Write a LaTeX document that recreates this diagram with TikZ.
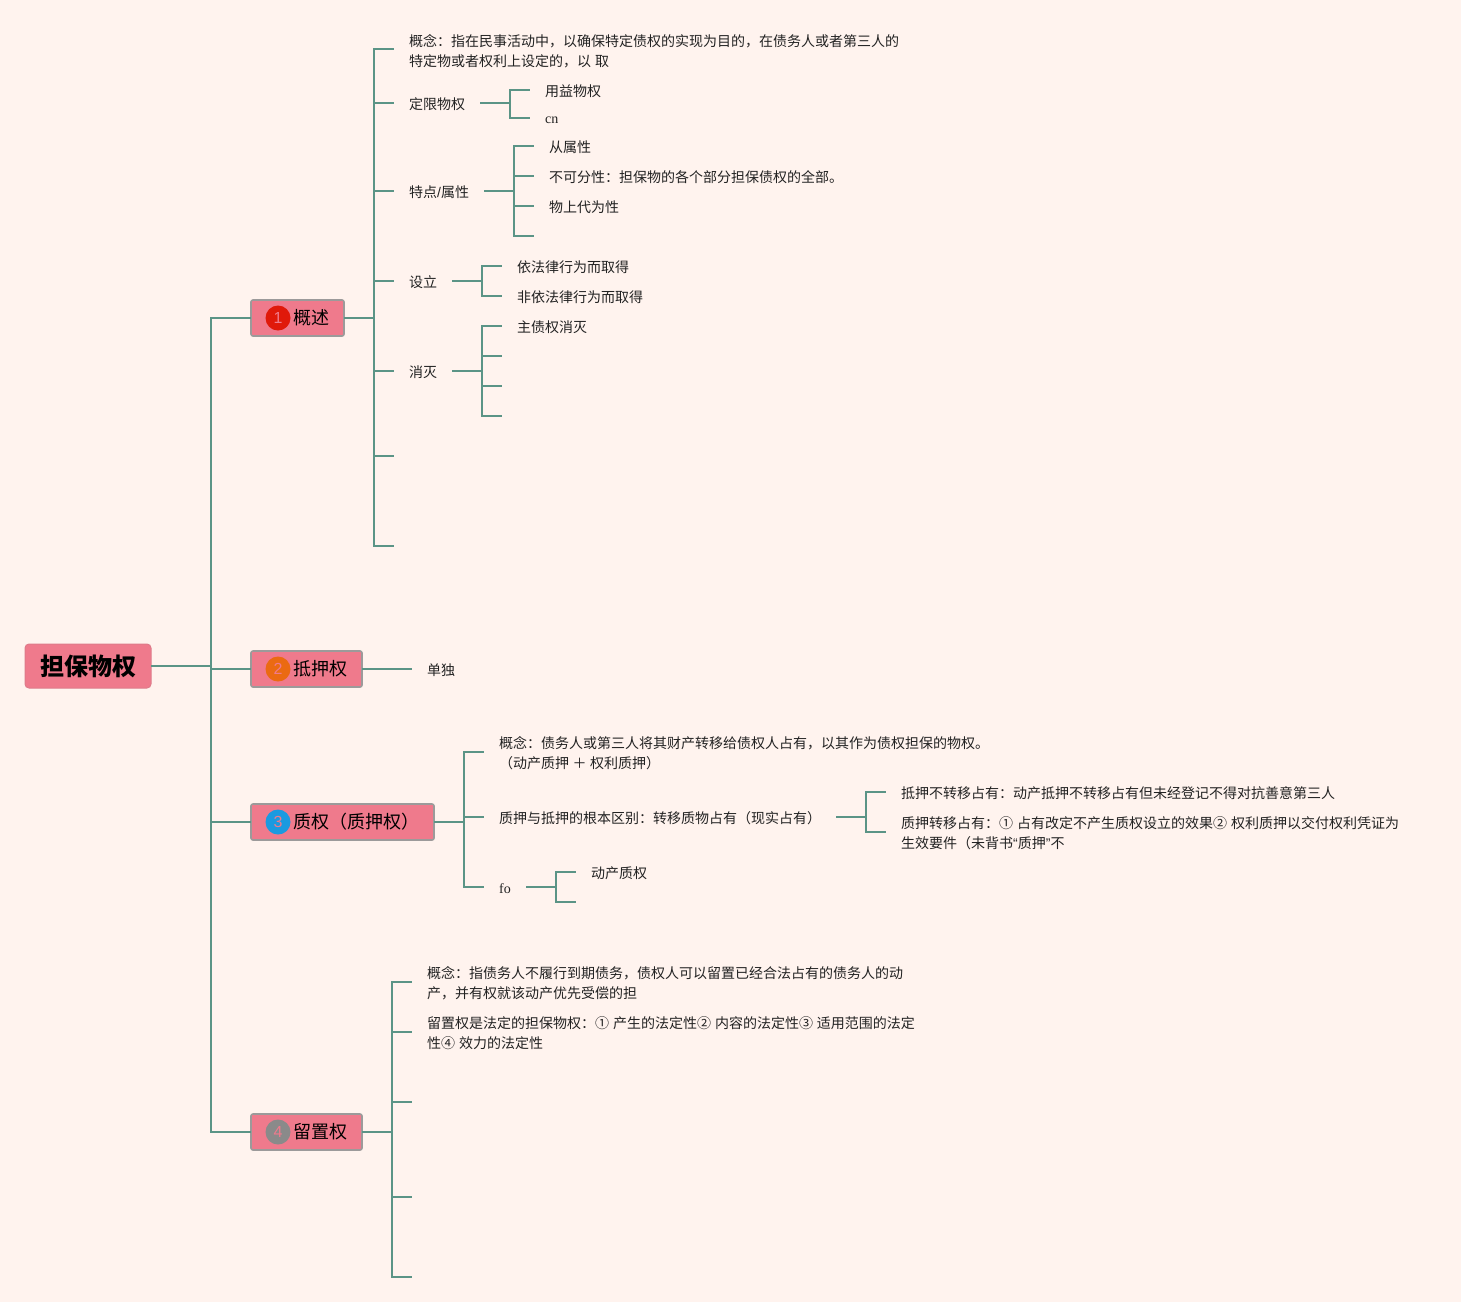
\documentclass[tikz,border=0pt]{standalone}
\usepackage{fontspec}
\setmainfont{Noto Sans CJK SC}
\newfontfamily\latinser{Liberation Serif}
\newfontfamily\latinsans{Liberation Sans}
\definecolor{bgc}{HTML}{FFF3EE}
\definecolor{linkc}{HTML}{5B9486}
\definecolor{boxc}{HTML}{EF7A8C}
\definecolor{edgec}{HTML}{9C9A9A}
\definecolor{txtc}{HTML}{222222}
\definecolor{badgeA}{HTML}{E0190A}
\definecolor{badgeB}{HTML}{EB6A12}
\definecolor{badgeC}{HTML}{1B9AE0}
\definecolor{badgeD}{HTML}{8A8A8A}
\tikzset{
  conn/.style={draw=linkc,line width=2pt},
  leaf/.style={anchor=west,inner xsep=15pt,inner ysep=0pt,align=left,text=txtc,font=\fontsize{14}{20}\selectfont},
  main/.style={anchor=west,draw=edgec,line width=1.6pt,outer sep=0pt,fill=boxc,rounded corners=2pt,minimum height=36pt,inner xsep=0pt,inner ysep=0pt,text=black,font=\fontsize{18}{22}\selectfont},
  rootbox/.style={draw=boxc!85!gray,line width=1pt,outer sep=0pt,fill=boxc,rounded corners=4pt,minimum width=126pt,minimum height=44pt,inner sep=0pt,text=black,font=\fontsize{24}{28}\selectfont\bfseries},
  badge/.style={circle,minimum size=25pt,inner sep=0pt,text=boxc,font=\latinsans\fontsize{16}{18}\selectfont},
}
\newcommand{\mtext}[1]{\hspace*{42pt}\raisebox{-1pt}{#1}\hspace*{15pt}}
\newcommand{\qs}[1]{{\latinsans #1}}
\newcommand{\gp}{\hspace{3.9pt}}
\begin{document}
\begin{tikzpicture}[x=1pt,y=-1pt]
\fill[bgc] (0,0) rectangle (1461,1302);
\useasboundingbox (0,0) rectangle (1461,1302);

% root and main branches
\node[rootbox] (root) at (88,666) {\raisebox{-2pt}{担保物权}};
\node[main] (m1) at (251,318) {\mtext{概述}};
\node[main] (m2) at (251,669) {\mtext{抵押权}};
\node[main] (m3) at (251,822) {\mtext{质权（质押权）}};
\node[main] (m4) at (251,1132) {\mtext{留置权}};
\node[badge,fill=badgeA] (b1) at (278,318) {1};
\node[badge,fill=badgeB] (b2) at (278,669) {2};
\node[badge,fill=badgeC] (b3) at (278,822) {3};
\node[badge,fill=badgeD] (b4) at (278,1132) {4};
\coordinate (jr) at (211,665.5);
\draw[conn] (root.east |- jr) -- (jr);
\foreach \m in {m1,m2,m3,m4} \draw[conn] (jr) |- (\m.west);

% 概述
\coordinate (j1) at (374,318);
\node[leaf] (a1) at (394,51.5) {概念：指在民事活动中，以确保特定债权的实现为目的，在债务人或者第三人的\\特定物或者权利上设定的，以\gp 取};
\node[leaf] (a2) at (394,104.5) {定限物权};
\node[leaf] (a3) at (394,192.5) {特点{\latinsans /}属性};
\node[leaf] (a4) at (394,282.5) {设立};
\node[leaf] (a5) at (394,372.5) {消灭};
\coordinate (a6) at (394,456);
\coordinate (a7) at (394,546);
\draw[conn] (m1.east) -- (j1);
\draw[conn] (j1) |- (a1.west |- 0,49);
\draw[conn] (j1) |- (a2.west |- 0,103);
\draw[conn] (j1) |- (a3.west |- 0,191);
\draw[conn] (j1) |- (a4.west |- 0,281);
\draw[conn] (j1) |- (a5.west |- 0,371);
\draw[conn] (j1) |- (a6);
\draw[conn] (j1) |- (a7);

% 定限物权
\coordinate (j2) at (510,103);
\node[leaf] (a21) at (530,91.5) {用益物权};
\node[leaf,font=\latinser\fontsize{14}{20}\selectfont] (a22) at (530,120.5) {cn};
\draw[conn] (a2.east |- j2) -- (j2);
\draw[conn] (j2) |- (a21.west |- 0,90);
\draw[conn] (j2) |- (a22.west |- 0,118);

% 特点/属性
\coordinate (j3) at (514,191);
\node[leaf] (a31) at (534,147.5) {从属性};
\node[leaf] (a32) at (534,177.5) {不可分性：担保物的各个部分担保债权的全部。};
\node[leaf] (a33) at (534,207.5) {物上代为性};
\coordinate (a34) at (534,236);
\draw[conn] (a3.east |- j3) -- (j3);
\draw[conn] (j3) |- (a31.west |- 0,146);
\draw[conn] (j3) |- (a32.west |- 0,176);
\draw[conn] (j3) |- (a33.west |- 0,206);
\draw[conn] (j3) |- (a34);

% 设立
\coordinate (j4) at (482,281);
\node[leaf] (a41) at (502,267.5) {依法律行为而取得};
\node[leaf] (a42) at (502,297.5) {非依法律行为而取得};
\draw[conn] (a4.east |- j4) -- (j4);
\draw[conn] (j4) |- (a41.west |- 0,266);
\draw[conn] (j4) |- (a42.west |- 0,296);

% 消灭
\coordinate (j5) at (482,371);
\node[leaf] (a51) at (502,327.5) {主债权消灭};
\coordinate (a52) at (502,356);
\coordinate (a53) at (502,386);
\coordinate (a54) at (502,416);
\draw[conn] (a5.east |- j5) -- (j5);
\draw[conn] (j5) |- (a51.west |- 0,326);
\draw[conn] (j5) |- (a52);
\draw[conn] (j5) |- (a53);
\draw[conn] (j5) |- (a54);

% 抵押权
\node[leaf] (c1) at (412,670.5) {单独};
\draw[conn] (m2.east) -- (c1.west |- m2.east);

% 质权
\coordinate (j6) at (464,822);
\node[leaf] (d1) at (484,753.5) {概念：债务人或第三人将其财产转移给债权人占有，以其作为债权担保的物权。\\（动产质押\hspace{3.5pt}＋\hspace{3.5pt}权利质押）};
\node[leaf] (d2) at (484,818.5) {质押与抵押的根本区别：转移质物占有（现实占有）};
\node[leaf,font=\latinser\fontsize{14}{20}\selectfont] (d3) at (484,889) {fo};
\draw[conn] (m3.east) -- (j6);
\draw[conn] (j6) |- (d1.west |- 0,752);
\draw[conn] (j6) |- (d2.west |- 0,817);
\draw[conn] (j6) |- (d3.west |- 0,887);

\coordinate (j7) at (866,817);
\node[leaf] (d21) at (886,793.5) {抵押不转移占有：动产抵押不转移占有但未经登记不得对抗善意第三人};
\node[leaf] (d22) at (886,833.5) {质押转移占有：①\gp 占有改定不产生质权设立的效果②\gp 权利质押以交付权利凭证为\\生效要件（未背书\qs{“}质押\qs{”}不};
\draw[conn] (d2.east |- j7) -- (j7);
\draw[conn] (j7) |- (d21.west |- 0,792);
\draw[conn] (j7) |- (d22.west |- 0,832);

\coordinate (j8) at (556,887);
\node[leaf] (d31) at (576,873.5) {动产质权};
\coordinate (d32) at (576,902);
\draw[conn] (d3.east |- j8) -- (j8);
\draw[conn] (j8) |- (d31.west |- 0,872);
\draw[conn] (j8) |- (d32);

% 留置权
\coordinate (j9) at (392,1132);
\node[leaf] (e1) at (412,983.5) {概念：指债务人不履行到期债务，债权人可以留置已经合法占有的债务人的动\\产，并有权就该动产优先受偿的担};
\node[leaf] (e2) at (412,1033.5) {留置权是法定的担保物权：①\gp 产生的法定性②\gp 内容的法定性③\gp 适用范围的法定\\性④\gp 效力的法定性};
\coordinate (e3) at (412,1102);
\coordinate (e4) at (412,1197);
\coordinate (e5) at (412,1277);
\draw[conn] (m4.east) -- (j9);
\draw[conn] (j9) |- (e1.west |- 0,982);
\draw[conn] (j9) |- (e2.west |- 0,1032);
\draw[conn] (j9) |- (e3);
\draw[conn] (j9) |- (e4);
\draw[conn] (j9) |- (e5);
\end{tikzpicture}
\end{document}
